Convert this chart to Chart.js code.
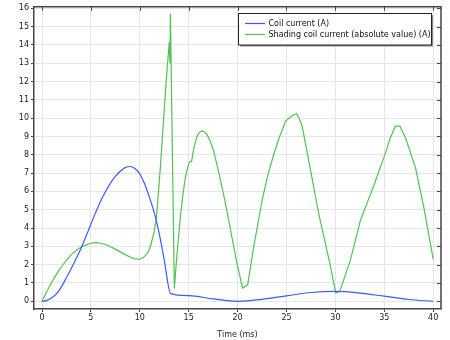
<!DOCTYPE html>
<html>
<head>
<meta charset="utf-8">
<script src="https://cdn.jsdelivr.net/npm/chart.js@4"></script>
<style>
  html, body { margin: 0; padding: 0; background: #fff; }
  #wrap { width: 450px; height: 340px; }
</style>
</head>
<body>
<div id="wrap"><canvas id="plot" width="450" height="340"></canvas></div>
<script>
// coil current (A) vs time (ms)
const coilTime = [0, 0.5, 1, 1.5, 2, 2.5, 3, 3.5, 4, 4.5, 5, 5.5, 6, 6.5, 7, 7.5, 8, 8.5, 9, 9.5,
  10, 10.5, 11, 11.5, 12, 12.5, 13.15, 15, 17.5, 20, 22.5, 25, 27.5, 30, 32.5, 35, 37.5, 40];
const coilCurrent = [0, 0.05, 0.19, 0.42, 0.8, 1.3, 1.8, 2.35, 2.9, 3.55, 4.22, 4.87, 5.48, 6.0, 6.45, 6.82,
  7.1, 7.3, 7.36, 7.25, 6.95, 6.4, 5.65, 4.8, 3.65, 2.25, 0.42, 0.31, 0.13, 0.0, 0.11, 0.3, 0.48, 0.54,
  0.45, 0.28, 0.1, 0.0];

// shading coil current, absolute value (A)
const shadeTime = [0, 0.5, 1, 1.5, 2, 2.5, 3, 3.5, 4, 4.5, 5, 5.5, 6, 6.5, 7, 7.5, 8, 8.5, 9, 9.5, 10,
  10.4, 10.8, 11.08, 11.42, 11.69, 12.1, 12.44, 12.79, 13.02, 13.08, 13.13, 13.53, 13.81, 14.15, 14.4,
  14.66, 14.85, 15.05, 15.3, 15.5, 15.68, 15.85, 16.02, 16.2, 16.4, 16.6, 16.88, 17.2, 17.56, 18.0,
  18.58, 19.1, 19.6, 20.0, 20.52, 21.03, 21.65, 22.5, 23.1, 23.7, 24.3, 24.9, 25.47, 26.02, 26.3,
  26.6, 27.28, 28.3, 29.5, 30.04, 30.45, 31.54, 32.56, 33.93, 35.02, 35.6, 36.14, 36.59, 37.17,
  38.19, 39.04, 40];
const shadeCurrent = [0, 0.55, 1.05, 1.5, 1.9, 2.25, 2.55, 2.78, 2.96, 3.08, 3.17, 3.2, 3.17, 3.1, 2.98,
  2.85, 2.7, 2.55, 2.42, 2.32, 2.3, 2.4, 2.65, 2.98, 3.7, 4.5, 7.3, 10.0, 12.7, 14.16, 13.0, 15.7, 0.7,
  2.62, 4.6, 5.8, 6.76, 7.2, 7.6, 7.65, 8.3, 8.7, 9.0, 9.17, 9.27, 9.3, 9.25, 9.1, 8.75, 8.2, 7.2,
  5.8, 4.4, 3.0, 1.9, 0.72, 0.9, 2.98, 5.5, 6.9, 8.03, 9.0, 9.83, 10.1, 10.25, 10.0,
  9.56, 7.67, 4.78, 1.9, 0.45, 0.54, 2.26, 4.42, 6.32, 7.94, 8.9, 9.56, 9.56, 8.93,
  7.3, 5.14, 2.3];

const seriesLabels = ['Coil current (A)', 'Shading coil current (absolute value) (A)'];
const xTicks = [0, 5, 10, 15, 20, 25, 30, 35, 40];
const yTicks = [0, 1, 2, 3, 4, 5, 6, 7, 8, 9, 10, 11, 12, 13, 14, 15, 16];

const FONT = 'DejaVu Sans';
const AXIS = '#444';
const blue = 'rgb(60, 90, 255)';
const green = 'rgb(80, 195, 80)';

const toPoints = (xs, ys) => xs.map((x, i) => ({ x: x, y: ys[i] }));

// frame on top/right with inward ticks, plus the boxed legend
const framePlugin = {
  id: 'frame',
  afterDraw(chart) {
    const { ctx, chartArea: a, scales } = chart;
    ctx.save();
    ctx.strokeStyle = AXIS;
    ctx.lineWidth = 1.5;
    ctx.beginPath();
    ctx.moveTo(a.left, a.top);
    ctx.lineTo(a.right, a.top);
    ctx.lineTo(a.right, a.bottom);
    ctx.stroke();

    ctx.lineWidth = 1;
    ctx.beginPath();
    xTicks.forEach(v => {
      const px = Math.round(scales.x.getPixelForValue(v)) + 0.5;
      ctx.moveTo(px, a.top);
      ctx.lineTo(px, a.top + 4);
    });
    yTicks.forEach(v => {
      const py = Math.round(scales.y.getPixelForValue(v)) + 0.5;
      ctx.moveTo(a.right, py);
      ctx.lineTo(a.right - 4, py);
    });
    ctx.stroke();

    // legend
    const bx = 238.5, by = 13.5, bw = 193, bh = 31.5;
    ctx.fillStyle = '#888';
    ctx.fillRect(bx + 1.5, by + 1.5, bw, bh);
    ctx.fillStyle = '#fff';
    ctx.fillRect(bx, by, bw, bh);
    ctx.strokeStyle = '#222';
    ctx.lineWidth = 1;
    ctx.strokeRect(bx, by, bw, bh);

    const colors = [blue, green];
    const rows = [23.5, 34.5];
    ctx.font = '8px "' + FONT + '"';
    ctx.textBaseline = 'middle';
    seriesLabels.forEach((label, i) => {
      ctx.strokeStyle = colors[i];
      ctx.lineWidth = 1.2;
      ctx.beginPath();
      ctx.moveTo(245, rows[i]);
      ctx.lineTo(265, rows[i]);
      ctx.stroke();
      ctx.fillStyle = '#111';
      ctx.fillText(label, 268.5, rows[i]);
    });
    ctx.restore();
  }
};

new Chart(document.getElementById('plot'), {
  type: 'line',
  data: {
    datasets: [
      {
        label: seriesLabels[0],
        data: toPoints(coilTime, coilCurrent),
        borderColor: blue,
        borderWidth: 1.2,
        pointRadius: 0,
        cubicInterpolationMode: 'monotone'
      },
      {
        label: seriesLabels[1],
        data: toPoints(shadeTime, shadeCurrent),
        borderColor: green,
        borderWidth: 1.2,
        pointRadius: 0,
        tension: 0
      }
    ]
  },
  options: {
    responsive: false,
    animation: false,
    events: [],
    layout: { padding: { top: 4, right: 9, left: 0, bottom: 0 } },
    plugins: {
      legend: { display: false },
      tooltip: { enabled: false }
    },
    scales: {
      x: {
        type: 'linear',
        min: -0.82,
        max: 40.8,
        afterBuildTicks: s => { s.ticks = xTicks.map(v => ({ value: v })); },
        afterFit: s => { s.height = 31; },
        grid: { color: '#e6e6e6', tickColor: AXIS, tickLength: 3, lineWidth: 1 },
        border: { color: AXIS, width: 1.5 },
        ticks: { color: '#222', font: { family: FONT, size: 8 }, padding: 1, maxRotation: 0 },
        title: { display: true, text: 'Time (ms)', color: '#222', font: { family: FONT, size: 8 }, padding: 0 }
      },
      y: {
        type: 'linear',
        min: -0.42,
        max: 16.08,
        afterBuildTicks: s => { s.ticks = yTicks.map(v => ({ value: v })); },
        afterFit: s => { s.width = 34; },
        grid: { color: '#e6e6e6', tickColor: AXIS, tickLength: 3, lineWidth: 1 },
        border: { color: AXIS, width: 1.5 },
        ticks: { color: '#222', font: { family: FONT, size: 8 }, padding: 2 }
      }
    }
  },
  plugins: [framePlugin]
});
</script>
</body>
</html>
